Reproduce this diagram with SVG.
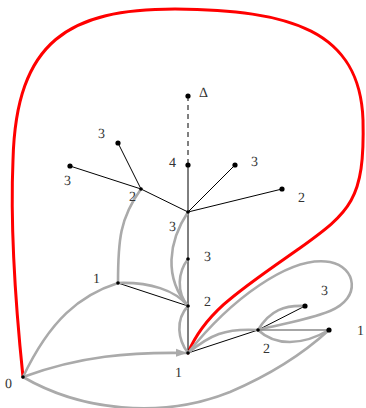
<svg xmlns="http://www.w3.org/2000/svg" width="366" height="408" viewBox="0 0 366 408">
<style>
.t{stroke:#000;stroke-width:1;fill:none}
.g{stroke:#aaa;stroke-width:2.6;fill:none;stroke-linecap:round}
.r{stroke:#f00;stroke-width:3;fill:none;stroke-linecap:round}
.lab{font-family:"Liberation Serif","DejaVu Serif",serif;font-size:14px;fill:#333;text-rendering:geometricPrecision}
.big{fill:#000}
</style>
<defs>
<marker id="ah" markerWidth="12" markerHeight="10" refX="10" refY="4" orient="auto" markerUnits="userSpaceOnUse" viewBox="0 0 12 8">
<path d="M0,0 L11,4 L0,8 Z" fill="#aaa"/>
</marker>
</defs>
<g id="connectors">
<path class="r" d="M23,377 C 15,300 10,230 13,160 C 16,40 70,9 175,9 C 290,10 360,30 363,120 C 365,200 350,212 300,248 C 240,290 205,312 188,353"/>
<line class="t" x1="188" y1="96" x2="188" y2="165" stroke-dasharray="5,4"/>
<line class="t" x1="188" y1="165" x2="188" y2="353"/>
<line class="t" x1="188" y1="212" x2="141" y2="189"/>
<line class="t" x1="141" y1="189" x2="118" y2="143"/>
<line class="t" x1="141" y1="189" x2="70" y2="166"/>
<line class="t" x1="188" y1="212" x2="235" y2="165"/>
<line class="t" x1="188" y1="212" x2="282" y2="189"/>
<line class="t" x1="118" y1="283" x2="188" y2="306"/>
<line class="t" x1="188" y1="353" x2="258" y2="330"/>
<line class="t" x1="258" y1="330" x2="305" y2="306"/>
<path class="g" d="M141,189 C 120,218 118,240 118,283"/>
<path class="g" d="M118,283 C 150,282 175,290 188,306"/>
<path class="g" d="M188,212 C 168,242 164,278 188,306"/>
<path class="g" d="M188,259 C 178,272 176,292 188,306"/>
<path class="g" d="M188,306 C 175,320 178,340 188,353"/>
<path class="g" d="M23,377 C 50,320 80,295 118,283"/>
<path class="g" d="M23,377 C 80,356 130,352 186,353" marker-end="url(#ah)"/>
<path class="g" d="M23,377 C 80,410 160,420 230,392 C 272,374 305,352 329,330"/>
<path class="g" d="M188,353 C 230,300 290,255 330,262 C 356,267 362,298 330,311 C 305,321 280,324 258,330"/>
<path class="g" d="M188,353 C 210,335 225,328 258,330"/>
<path class="g" d="M258,330 C 270,310 285,305 305,306"/>
<path class="g" d="M258,330 C 275,346 302,346 329,330"/>
<line x1="258" y1="330" x2="329" y2="330" stroke="#888" stroke-width="1.6"/>
</g>
<g id="nDelta"><circle class="big" cx="188" cy="96" r="2.6"/><text class="lab" x="199" y="97" font-size="15">Δ</text></g>
<g id="n4"><circle class="big" cx="188" cy="165" r="2.6"/><text class="lab" x="169" y="167">4</text></g>
<g id="n3a"><circle class="big" cx="118" cy="143" r="2.6"/><text class="lab" x="98" y="138">3</text></g>
<g id="n3b"><circle class="big" cx="70" cy="166" r="2.6"/><text class="lab" x="64" y="185">3</text></g>
<g id="n2a"><circle class="big" cx="141" cy="189" r="1.8"/><text class="lab" x="129" y="201">2</text></g>
<g id="n3c"><circle class="big" cx="235" cy="165" r="2.6"/><text class="lab" x="251" y="166">3</text></g>
<g id="n2b"><circle class="big" cx="282" cy="189" r="2.6"/><text class="lab" x="298" y="202">2</text></g>
<g id="n3d"><circle class="big" cx="188" cy="212" r="1.8"/><text class="lab" x="169" y="231">3</text></g>
<g id="n3e"><circle class="big" cx="188" cy="259" r="1.8"/><text class="lab" x="204" y="261">3</text></g>
<g id="n1a"><circle class="big" cx="118" cy="283" r="1.8"/><text class="lab" x="93" y="283">1</text></g>
<g id="n2c"><circle class="big" cx="188" cy="306" r="1.8"/><text class="lab" x="204" y="306">2</text></g>
<g id="n1b"><circle class="big" cx="188" cy="353" r="1.8"/><text class="lab" x="175" y="377">1</text></g>
<g id="n0"><circle class="big" cx="23" cy="377" r="1.8"/><text class="lab" x="5" y="388">0</text></g>
<g id="n2d"><circle class="big" cx="258" cy="330" r="1.8"/><text class="lab" x="263" y="353">2</text></g>
<g id="n3f"><circle class="big" cx="305" cy="306" r="2.6"/><text class="lab" x="321" y="295">3</text></g>
<g id="n1c"><circle class="big" cx="329" cy="330" r="2.6"/><text class="lab" x="357" y="335">1</text></g>
</svg>
